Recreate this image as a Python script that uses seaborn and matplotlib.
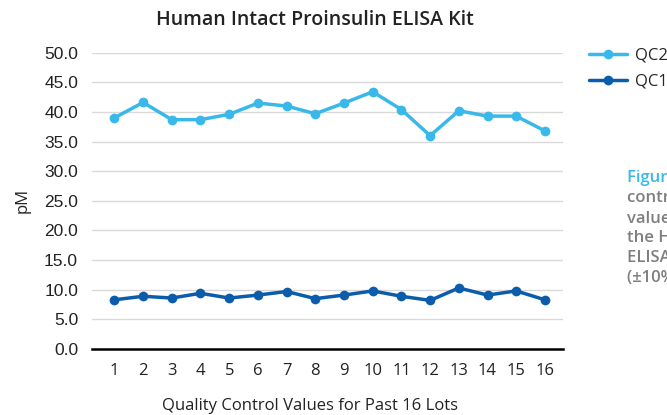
import matplotlib
matplotlib.use("Agg")
import matplotlib.pyplot as plt
import seaborn as sns
import pandas as pd
import numpy as np
from matplotlib.ticker import FixedLocator, FormatStrFormatter

lots = list(range(1, 17))
qc2 = [39.0, 41.6, 38.7, 38.7, 39.6, 41.5, 41.0, 39.7, 41.5, 43.4, 40.4, 36.0, 40.2, 39.3, 39.3, 36.8]
qc1 = [8.3, 8.9, 8.6, 9.4, 8.6, 9.1, 9.7, 8.5, 9.1, 9.8, 8.9, 8.2, 10.3, 9.1, 9.8, 8.3]
series_names = ["QC2", "QC1"]
colors = {"QC2": "#39b8ea", "QC1": "#0b5dab"}
yticks = [0, 5, 10, 15, 20, 25, 30, 35, 40, 45, 50]

title = "Human Intact Proinsulin ELISA Kit"
xlabel = "Quality Control Values for Past 16 Lots"
ylabel = "pM"
caption_head = "Figure 2."
caption_lines = ["control values", "values for QC", "the Human", "ELISA Kit", "(±10% CV)"]

df = pd.DataFrame({
    "lot": lots * 2,
    "value": qc2 + qc1,
    "series": ["QC2"] * len(lots) + ["QC1"] * len(lots),
})

sns.set_style("white")
plt.rcParams["font.family"] = ["Open Sans", "DejaVu Sans"]

fig = plt.figure(figsize=(6.67, 4.15), dpi=100)
ax = fig.add_axes([92 / 667, 1 - 349 / 415, (563 - 92) / 667, (349 - 52.7) / 415])

sns.lineplot(data=df, x="lot", y="value", hue="series", hue_order=series_names,
             palette=colors, marker="o", markersize=7, markeredgewidth=0,
             linewidth=2.5, ax=ax, legend=True)

ax.set_xlim(0.22, 16.63)
ax.set_ylim(0, 50)
ax.yaxis.set_major_locator(FixedLocator(yticks))
ax.yaxis.set_major_formatter(FormatStrFormatter("%.1f"))
ax.xaxis.set_major_locator(FixedLocator(lots))
ax.xaxis.set_minor_locator(FixedLocator(np.arange(0.5, 16.6, 1.0)))
ax.tick_params(axis="x", which="major", length=0, pad=10, labelsize=12, labelcolor="#222222")
ax.tick_params(axis="x", which="minor", length=4, width=1, color="black", direction="out")
ax.tick_params(axis="y", length=0, pad=10, labelsize=12.5, labelcolor="#222222")
for lab in ax.get_yticklabels():
    lab.set_family(["Liberation Sans", "DejaVu Sans"])

ax.grid(axis="y", color="#d9d9d9", linewidth=1)
ax.grid(axis="x", visible=False)
ax.set_axisbelow(True)
for s in ["top", "right", "left"]:
    ax.spines[s].set_visible(False)
ax.spines["bottom"].set_color("black")
ax.spines["bottom"].set_linewidth(1.8)
ax.spines["bottom"].set_zorder(5)

ax.set_xlabel("")
ax.set_ylabel(ylabel, fontsize=12, color="#222222", labelpad=10)
fig.text(310 / 667, 1 - 406 / 415, xlabel, ha="center", va="center",
         fontsize=12, color="#222222")

fig.text(315 / 667, 1 - 20 / 415, title, ha="center", va="center",
         fontsize=14, fontweight="semibold", color="#222222")

handles, labels = ax.get_legend_handles_labels()
ax.legend(handles, labels, loc="center left", bbox_to_anchor=(582 / 667, 1 - 69 / 415),
          bbox_transform=fig.transFigure, frameon=False, fontsize=12,
          handlelength=2.3, handletextpad=0.5, labelspacing=0.6, borderaxespad=0)

fig.text(627 / 667, 1 - 178 / 415, caption_head, ha="left", va="center",
         fontsize=12, fontweight="semibold", color="#39b8ea")
for i, line in enumerate(caption_lines):
    fig.text(627 / 667, 1 - (198 + 20 * i) / 415, line, ha="left", va="center",
             fontsize=12, fontweight="semibold", color="#7f7f7f")

fig.savefig("out.png", dpi=100)
